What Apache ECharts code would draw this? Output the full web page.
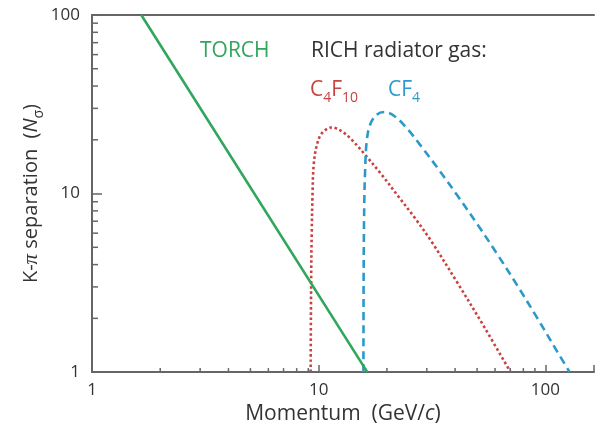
<!DOCTYPE html>
<html>
<head>
<meta charset="utf-8">
<script src="https://cdn.jsdelivr.net/npm/echarts@6/dist/echarts.min.js"></script>
<style>
  html, body { margin: 0; padding: 0; background: #fff; }
  #chart { width: 597px; height: 430px; }
</style>
</head>
<body>
<div id="chart"></div>
<script>
// Momentum (GeV/c) vs K-pi separation in units of sigma
const torch = [[1.65, 100], [16.4, 1]];

const c4f10 = [
  [9.22, 1], [9.26, 3], [9.32, 6], [9.4, 10], [9.51, 14.5], [9.83, 18.8],
  [10.34, 21.8], [11.44, 23.46], [12.65, 22.3], [14.0, 20.0], [16.03, 16.5],
  [18.95, 12.77], [22.43, 9.66], [26.56, 7.31], [31.4, 5.41], [41.1, 3.14],
  [54.0, 1.773], [70.2, 1]
];

const cf4 = [
  [15.76, 1], [15.8, 4], [15.9, 9], [16.03, 13.32], [16.29, 19.6], [16.86, 24.29],
  [18.02, 27.63], [19.48, 28.6], [21.7, 27.03], [24.81, 22.78], [28.38, 18.37],
  [33.6, 13.81], [41.1, 9.68], [50.3, 6.69], [61.6, 4.546], [75.4, 3.042],
  [92.2, 2.005], [112.9, 1.302], [128.1, 1]
];

const xMajorLabels = [1, 10, 100];
const yMajorLabels = [1, 10, 100];
const xMinorTicks = [2, 3, 4, 5, 6, 7, 8, 9, 20, 30, 40, 50, 60, 70, 80, 90];
const yMinorTicks = [2, 3, 4, 5, 6, 7, 8, 9, 20, 30, 40, 50, 60, 70, 80, 90];

const FONT = '"Open Sans", "Noto Sans", sans-serif';
const AXIS_COLOR = '#666';
const TEXT_COLOR = '#333';
const GREEN = '#30a65d';
const RED = '#c9423f';
const BLUE = '#2b9acb';

const X_MIN = 1;
const X_MAX = 164;

function isMajor(list, v) {
  return list.some(m => Math.abs(m - v) < 1e-6 * m);
}

function minorTickSeries(values, dir, len) {
  return {
    type: 'custom',
    silent: true,
    clip: false,
    z: 5,
    data: values.map(v => (dir === 'x' ? [v, 1] : [1, v])),
    renderItem(params, api) {
      const p = api.coord([api.value(0), api.value(1)]);
      const shape = dir === 'x'
        ? { x1: p[0], y1: p[1], x2: p[0], y2: p[1] - len }
        : { x1: p[0], y1: p[1], x2: p[0] + len, y2: p[1] };
      return { type: 'line', shape, style: { stroke: AXIS_COLOR, lineWidth: 1.5 } };
    }
  };
}

const chart = echarts.init(document.getElementById('chart'), null, { renderer: 'canvas' });

chart.setOption({
  animation: false,
  backgroundColor: '#fff',
  grid: { left: 92, top: 15, right: 0, bottom: 57, show: false },
  xAxis: [
    {
      type: 'log',
      logBase: 10,
      min: X_MIN,
      max: X_MAX,
      axisLine: { show: true, lineStyle: { color: AXIS_COLOR, width: 2 } },
      axisTick: { show: true, inside: true, length: 7, lineStyle: { color: AXIS_COLOR, width: 1.5 } },
      axisLabel: {
        margin: 10,
        fontSize: 17,
        color: TEXT_COLOR,
        fontFamily: FONT,
        formatter: v => (isMajor(xMajorLabels, v) ? String(Math.round(v)) : '')
      },
      splitLine: { show: false },
      name: '{a|Momentum  (GeV/}{i|c}{a|)}',
      nameLocation: 'middle',
      nameGap: 29,
      nameTextStyle: {
        rich: {
          a: { fontSize: 21, color: TEXT_COLOR, fontFamily: FONT },
          i: { fontSize: 21, color: TEXT_COLOR, fontFamily: FONT, fontStyle: 'italic' }
        }
      }
    },
    {
      // top frame line
      type: 'log',
      logBase: 10,
      position: 'top',
      min: X_MIN,
      max: X_MAX,
      axisLine: { show: true, lineStyle: { color: AXIS_COLOR, width: 2 } },
      axisTick: { show: false },
      axisLabel: { show: false },
      splitLine: { show: false }
    }
  ],
  yAxis: {
    type: 'log',
    logBase: 10,
    min: 1,
    max: 100,
    axisLine: { show: true, lineStyle: { color: AXIS_COLOR, width: 2 } },
    axisTick: { show: true, inside: true, length: 10, lineStyle: { color: AXIS_COLOR, width: 1.5 } },
    axisLabel: {
      margin: 12,
      fontSize: 17,
      color: TEXT_COLOR,
      fontFamily: FONT,
      formatter: v => (isMajor(yMajorLabels, v) ? String(Math.round(v)) : '')
    },
    splitLine: { show: false },
    name: '{a|K-}{p|π}{a| separation  (}{i|N}{s|σ}{a|)}',
    nameLocation: 'middle',
    nameMoveOverlap: false,
    nameGap: 46,
    nameTextStyle: {
      rich: {
        a: { fontSize: 20, color: TEXT_COLOR, fontFamily: FONT, verticalAlign: 'top', lineHeight: 25 },
        p: { fontSize: 21, color: TEXT_COLOR, fontFamily: '"Liberation Serif", serif', fontStyle: 'italic', verticalAlign: 'top', lineHeight: 25 },
        i: { fontSize: 20, color: TEXT_COLOR, fontFamily: FONT, fontStyle: 'italic', verticalAlign: 'top', lineHeight: 25 },
        s: { fontSize: 14, color: TEXT_COLOR, fontFamily: FONT, verticalAlign: 'bottom', lineHeight: 12 }
      }
    }
  },
  series: [
    {
      name: 'TORCH',
      type: 'line',
      data: torch,
      showSymbol: false,
      lineStyle: { color: GREEN, width: 2.6 },
      z: 3
    },
    {
      name: 'C4F10',
      type: 'line',
      data: c4f10,
      showSymbol: false,
      smooth: 0.35,
      lineStyle: { color: RED, width: 2.6, type: [2.6, 2.6], cap: 'butt' },
      z: 2
    },
    {
      name: 'CF4',
      type: 'line',
      data: cf4,
      showSymbol: false,
      smooth: 0.35,
      lineStyle: { color: BLUE, width: 2.6, type: [8, 5], cap: 'butt' },
      z: 2
    },
    minorTickSeries(xMinorTicks, 'x', 4),
    minorTickSeries(yMinorTicks, 'y', 6)
  ],
  graphic: [
    {
      type: 'text', left: 200, top: 41,
      style: { text: 'TORCH', fill: GREEN, font: '21px ' + FONT }
    },
    {
      type: 'text', left: 311, top: 41,
      style: { text: 'RICH radiator gas:', fill: TEXT_COLOR, font: '21px ' + FONT }
    },
    {
      type: 'text', left: 310, top: 80,
      style: {
        text: '{a|C}{b|4}{a|F}{b|10}',
        rich: {
          a: { fontSize: 21, fontFamily: FONT, fill: RED, color: RED, verticalAlign: 'top', lineHeight: 25 },
          b: { fontSize: 14, fontFamily: FONT, fill: RED, color: RED, verticalAlign: 'bottom', lineHeight: 12 }
        }
      }
    },
    {
      type: 'text', left: 388, top: 80,
      style: {
        text: '{a|CF}{b|4}',
        rich: {
          a: { fontSize: 21, fontFamily: FONT, fill: BLUE, color: BLUE, verticalAlign: 'top', lineHeight: 25 },
          b: { fontSize: 14, fontFamily: FONT, fill: BLUE, color: BLUE, verticalAlign: 'bottom', lineHeight: 12 }
        }
      }
    }
  ]
});
</script>
</body>
</html>
